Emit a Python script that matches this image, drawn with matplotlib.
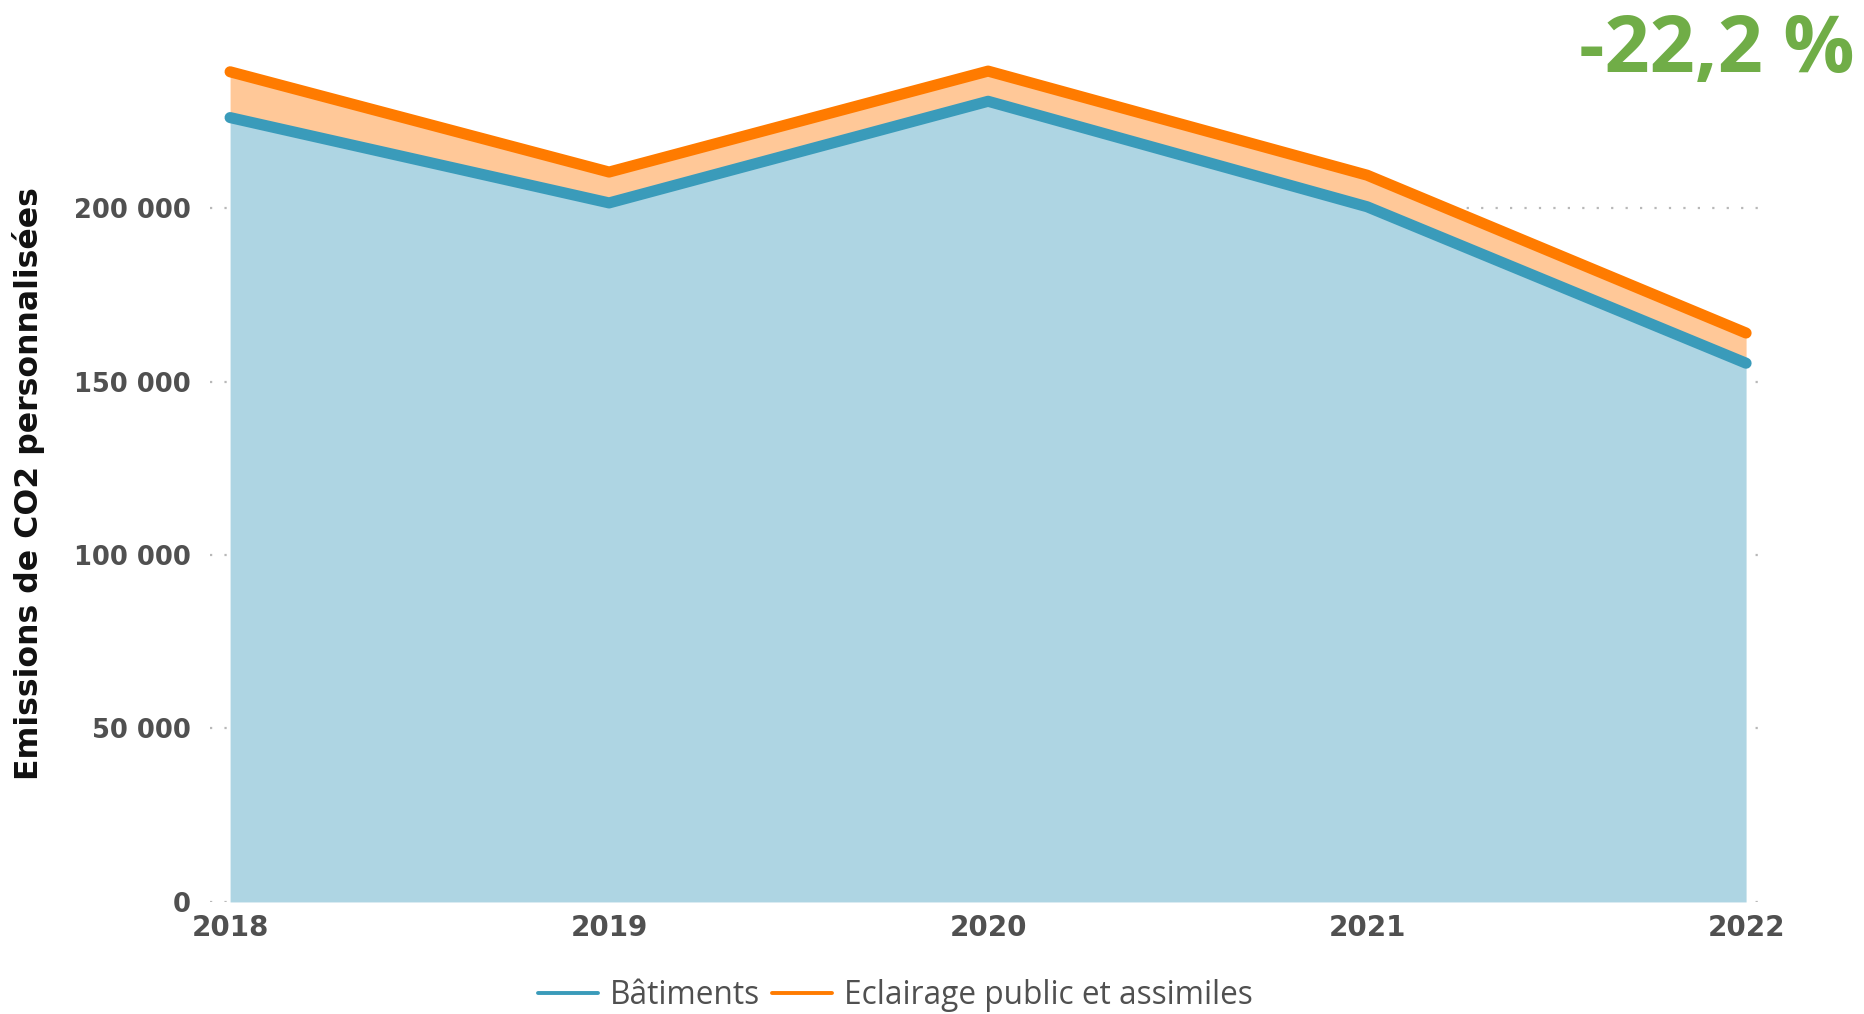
import matplotlib.pyplot as plt
import numpy as np

# data
years = [2018, 2019, 2020, 2021, 2022]
batiments = [226100, 201500, 230800, 200400, 155300]
eclairage = [13200, 8900, 8700, 9100, 8700]
yticks = [0, 50000, 100000, 150000, 200000]
total = np.array(batiments) + np.array(eclairage)

blue_line = '#3A9BBA'
blue_fill = '#AED5E3'
orange_line = '#FF7B00'
orange_fill = '#FFC898'
gray = '#505050'

fig = plt.figure(figsize=(18.65, 10.14), dpi=100)
ax = fig.add_axes([0.1126, 0.1105, 0.8338, 0.8382])

# stacked areas
ax.fill_between(years, 0, batiments, color=blue_fill, lw=0)
ax.fill_between(years, batiments, total, color=orange_fill, lw=0)
ax.plot(years, batiments, color=blue_line, lw=8, solid_capstyle='round',
        solid_joinstyle='round', label='Bâtiments', clip_on=False)
ax.plot(years, total, color=orange_line, lw=8, solid_capstyle='round',
        solid_joinstyle='round', label='Eclairage public et assimiles', clip_on=False)

ax.set_xlim(2017.947, 2022.05)
ax.set_ylim(0, 245000)
ax.set_xticks(years)
ax.set_xticklabels([str(y) for y in years])
ax.set_yticks(yticks)
ax.set_yticklabels([f'{v:,}'.replace(',', ' ') for v in yticks])

for s in ax.spines.values():
    s.set_visible(False)
ax.tick_params(length=0)
ax.tick_params(axis='y', pad=14, labelsize=18.5, labelcolor=gray)
ax.tick_params(axis='x', pad=9, labelsize=20, labelcolor=gray)
for lab in ax.get_xticklabels() + ax.get_yticklabels():
    lab.set_fontweight('bold')
    lab.set_family('DejaVu Sans')

ax.set_axisbelow(True)
ax.yaxis.grid(True, color='#b8b8b8', lw=1.6, linestyle=(0, (1, 5.5)))

fig.text(0.0153, 0.523, 'Emissions de CO2 personnalisées', rotation=90,
         ha='center', va='center', fontsize=22.7, fontweight='bold',
         family='DejaVu Sans', color='#111111')

# legend at the bottom
leg = ax.legend(loc='center', bbox_to_anchor=(0.48, 0.018),
                bbox_transform=fig.transFigure, ncol=2, frameon=False,
                handlelength=1.9, handletextpad=0.37, columnspacing=0.4,
                prop={'family': 'Open Sans', 'size': 22.8})
for line in leg.get_lines():
    line.set_linewidth(2.8)
for t in leg.get_texts():
    t.set_color(gray)

# headline figure
fig.text(0.9946, 0.929, '-22,2 %', ha='right', va='baseline', fontsize=57,
         fontweight='bold', family='Open Sans', color='#70AD47')

fig.savefig('out.png', dpi=100)
